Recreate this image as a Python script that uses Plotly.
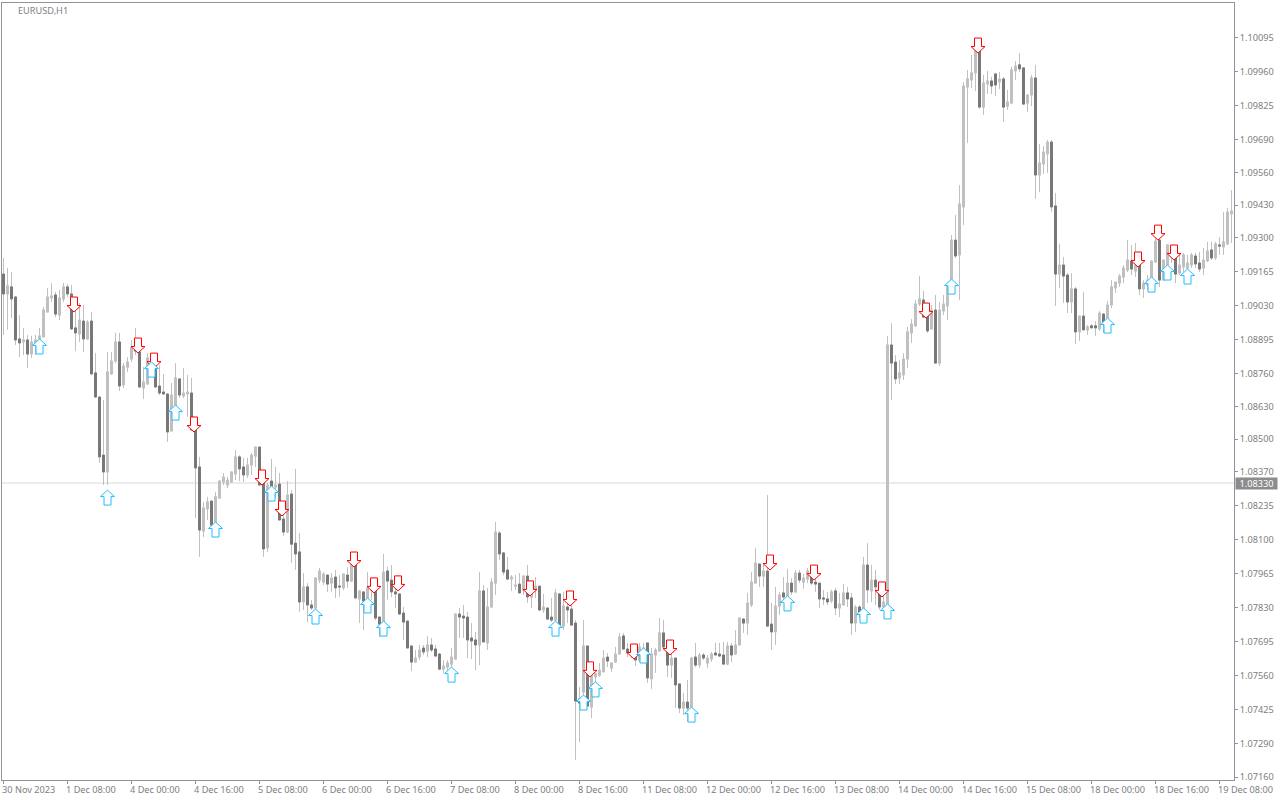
import plotly.graph_objects as go

# Prices in points (1 point = 0.00001)
highs_pts = [109220,109180,109164,109065,108993,108942,108914,108910,108914,108942,109025,109101,109120,109085,109093,109120,109116,109113,109045,109041,
109033,108973,109005,108842,108667,108655,108846,108846,108922,108922,108802,108826,108894,108942,108882,108786,108842,108842,108826,108794,
108759,108679,108723,108802,108739,108782,108755,108743,108548,108429,108250,108270,108257,108289,108337,108365,108349,108369,108456,108436,
108425,108425,108444,108468,108468,108337,108325,108421,108389,108365,108230,108333,108297,108381,108126,107967,107927,107860,107951,107987,
107971,107959,107967,107979,107959,107963,107991,108031,108039,107896,107892,107971,107951,107927,107792,108043,107991,107999,107951,107884,
107832,107776,107677,107661,107681,107681,107717,107709,107681,107649,107621,107621,107669,107804,107828,107840,107812,107768,107733,107971,
107919,107908,107947,108170,108134,108051,108031,107959,107959,107967,107959,107999,107919,107951,107915,107884,107828,107868,107904,107888,
107892,107868,107868,107780,107514,107780,107677,107570,107570,107609,107661,107649,107613,107673,107729,107729,107689,107673,107653,107689,
107689,107689,107669,107669,107788,107780,107701,107649,107629,107526,107490,107542,107633,107689,107649,107649,107641,107653,107689,107689,
107693,107693,107689,107740,107788,107788,107888,107971,108067,108003,107999,108277,107848,107912,107892,107951,107983,107947,107979,107979,
107963,107987,107999,107959,107927,107900,107892,107900,107908,107888,107923,107912,107888,107840,107840,108031,108086,107999,107979,107931,
107888,108910,108961,108834,108814,108842,108946,108977,109053,109148,109089,109021,109033,109073,109045,109073,109124,109311,109391,109510,
109920,109968,110027,110079,110047,109948,109964,109940,109952,109960,109940,109888,109980,110003,110035,109976,109872,109948,109988,109673,
109665,109689,109689,109478,109276,109224,109160,109160,109105,108989,109085,108953,108957,108969,109009,109001,109049,109132,109124,109156,
109192,109291,109272,109280,109192,109132,109152,109208,109299,109351,109212,109272,109272,109272,109232,109240,109232,109240,109240,109244,
109260,109284,109284,109284,109303,109403,109419,109490]

lows_pts = [108914,108934,108981,108874,108826,108834,108782,108822,108834,108874,108906,109005,109045,108985,108973,109045,109065,108934,108850,108886,
108846,108894,108755,108663,108405,108317,108317,108755,108802,108691,108703,108767,108806,108834,108703,108659,108715,108755,108703,108675,
108675,108488,108532,108615,108663,108663,108588,108536,108186,108031,108110,108178,108150,108158,108265,108317,108305,108329,108337,108333,
108329,108345,108357,108389,108317,108031,108051,108277,108265,108178,108114,108126,108007,107979,107812,107820,107772,107820,107780,107927,
107919,107892,107892,107868,107872,107900,107908,107931,107868,107768,107740,107860,107860,107780,107713,107768,107860,107872,107828,107800,
107701,107669,107577,107609,107621,107641,107633,107653,107633,107581,107570,107574,107589,107625,107709,107709,107629,107625,107581,107601,
107693,107661,107828,107880,108019,107959,107943,107896,107900,107888,107880,107848,107828,107868,107820,107808,107784,107772,107776,107748,
107740,107768,107760,107224,107295,107462,107438,107390,107522,107554,107574,107593,107574,107609,107641,107661,107633,107629,107597,107613,
107613,107530,107506,107570,107653,107669,107554,107550,107430,107410,107402,107375,107410,107593,107589,107621,107589,107613,107641,107633,
107601,107601,107613,107641,107681,107729,107721,107832,107927,107912,107912,107756,107661,107681,107800,107860,107868,107880,107888,107927,
107904,107927,107919,107892,107828,107840,107840,107848,107800,107792,107840,107832,107721,107733,107788,107800,107848,107852,107840,107820,
107820,107820,108655,108719,108719,108735,108782,108882,108946,109029,108981,108922,108938,108802,108790,108993,108973,109132,109220,109053,
109351,109677,109896,109884,109813,109789,109872,109872,109864,109892,109761,109809,109836,109928,109960,109828,109801,109824,109455,109482,
109554,109558,109403,109029,109101,109041,109001,109001,108878,108890,108934,108914,108942,108910,108930,108922,108953,109021,109081,109105,
109120,109164,109152,109144,109073,109061,109093,109124,109200,109105,109132,109140,109200,109120,109152,109164,109164,109180,109180,109164,
109152,109204,109212,109212,109232,109232,109272,109280]

opens_pts = [109156,109077,109105,109065,108898,108886,108894,108838,108874,108894,108906,109005,109061,109073,108993,109057,109105,109077,108942,108918,
108969,108898,108969,108763,108667,108436,108369,108759,108810,108886,108715,108786,108818,108866,108846,108703,108719,108818,108798,108711,
108687,108679,108532,108615,108739,108671,108679,108683,108536,108389,108134,108222,108253,108158,108265,108329,108317,108329,108361,108429,
108389,108357,108397,108432,108468,108333,108067,108333,108309,108321,108182,108130,108281,108086,108051,107852,107912,107840,107828,107939,
107931,107959,107927,107951,107915,107908,107959,107935,108007,107864,107892,107860,107900,107904,107792,107772,107975,107939,107892,107884,
107808,107776,107677,107613,107633,107669,107657,107681,107665,107645,107585,107593,107605,107625,107804,107796,107792,107709,107701,107681,
107896,107689,107832,107927,108126,108047,107979,107943,107915,107923,107900,107955,107872,107904,107915,107820,107828,107792,107780,107884,
107756,107832,107824,107768,107466,107494,107677,107434,107554,107561,107574,107633,107589,107613,107645,107717,107665,107637,107641,107621,
107641,107689,107546,107641,107657,107729,107677,107601,107629,107526,107430,107454,107430,107633,107601,107641,107609,107625,107649,107645,
107641,107605,107677,107645,107681,107784,107768,107840,107927,108003,107955,107975,107764,107733,107836,107888,107872,107927,107892,107967,
107931,107943,107975,107931,107927,107868,107864,107856,107896,107828,107840,107888,107868,107768,107832,107804,107999,107896,107939,107912,
107832,107840,108874,108806,108743,108755,108818,108922,108950,109037,109053,109001,108938,109013,108802,109009,109029,109132,109291,109232,
109423,109900,109928,109956,110043,109820,109912,109924,109952,109920,109932,109824,109836,109964,109988,109976,109836,109868,109936,109550,
109594,109634,109681,109427,109156,109192,109152,109045,109097,108926,108989,108934,108950,108950,108938,108997,108961,109033,109101,109120,
109144,109172,109208,109168,109192,109097,109113,109124,109204,109291,109132,109192,109224,109228,109160,109184,109180,109192,109228,109200,
109180,109208,109252,109220,109272,109264,109276,109395]

closes_pts = [109077,109109,109057,108894,108882,108894,108838,108886,108894,108910,109013,109065,109069,108997,109061,109105,109077,108938,108922,108973,
108898,108965,108759,108667,108429,108369,108767,108810,108886,108711,108790,108806,108866,108850,108707,108727,108822,108794,108707,108683,
108679,108528,108675,108743,108675,108683,108687,108536,108385,108138,108226,108250,108158,108270,108333,108349,108337,108369,108429,108381,
108357,108397,108436,108468,108317,108063,108317,108313,108317,108178,108130,108277,108082,108043,107852,107912,107840,107828,107947,107975,
107963,107923,107947,107908,107912,107963,107935,108007,107868,107896,107856,107908,107912,107788,107764,107971,107935,107892,107884,107804,
107772,107669,107613,107629,107661,107653,107681,107661,107637,107585,107597,107609,107633,107804,107792,107788,107701,107697,107681,107896,
107693,107832,107931,108130,108043,107971,107943,107951,107919,107888,107955,107872,107904,107915,107820,107832,107784,107780,107888,107756,
107836,107820,107760,107458,107450,107677,107438,107561,107566,107581,107629,107617,107609,107645,107713,107665,107649,107649,107621,107673,
107669,107550,107645,107661,107729,107673,107601,107629,107522,107430,107454,107430,107629,107601,107641,107629,107629,107645,107641,107637,
107605,107677,107641,107681,107788,107768,107848,107931,108007,107955,107975,107756,107733,107836,107880,107872,107927,107892,107967,107939,
107947,107975,107927,107923,107864,107864,107852,107892,107828,107844,107888,107864,107768,107832,107804,107999,107900,107939,107912,107832,
107852,108874,108802,108739,108763,108818,108926,108957,109037,109057,108985,108930,109013,108802,109013,109037,109105,109291,109228,109435,
109904,109932,109956,110051,109820,109916,109924,109904,109908,109932,109820,109840,109968,109983,109972,109832,109868,109936,109550,109598,
109641,109681,109423,109156,109192,109148,109045,109097,108926,108989,108934,108946,108942,108942,109001,108961,109033,109105,109124,109148,
109180,109212,109176,109192,109097,109120,109132,109208,109287,109132,109212,109272,109260,109156,109192,109232,109200,109232,109196,109176,
109212,109248,109220,109276,109268,109284,109403,109407]

sell_bars = [17,33,37,47,64,69,87,92,98,131,141,146,157,166,191,202,219,230,243,283,288,292]
sell_pts = [109005,108842,108782,108528,108317,108194,107991,107888,107896,107876,107836,107554,107625,107641,107979,107939,107872,108981,110035,109184,109291,109212]
buy_bars = [9,26,37,43,53,67,78,91,95,112,138,145,148,160,172,196,215,221,237,276,287,291,296]
buy_pts = [108898,108297,108806,108635,108170,108313,107824,107868,107776,107593,107776,107482,107534,107669,107434,107876,107828,107844,109136,108981,109144,109192,109176]

y_ticks = [1.10095,1.09960,1.09825,1.09690,1.09560,1.09430,1.09300,1.09165,1.09030,1.08895,1.08760,1.08630,1.08500,1.08370,1.08235,1.08100,1.07965,1.07830,1.07695,1.07560,1.07425,1.07290,1.07155]
y_tick_labels = [f"{v:.5f}" for v in y_ticks[:-1]] + ["1.07160"]
x_tick_bars = list(range(0, 320, 16))
x_tick_labels = ["30 Nov 2023","1 Dec 08:00","4 Dec 00:00","4 Dec 16:00","5 Dec 08:00","6 Dec 00:00","6 Dec 16:00","7 Dec 08:00","8 Dec 00:00","8 Dec 16:00",
"11 Dec 08:00","12 Dec 00:00","12 Dec 16:00","13 Dec 08:00","14 Dec 00:00","14 Dec 16:00","15 Dec 08:00","18 Dec 00:00","18 Dec 16:00","19 Dec 08:00"]
current_price = 1.08325
current_label = "1.08330"

LIGHT, DARK, FRAME, TXT = "#c0c0c0", "#787878", "#92929c", "#808080"
FONT = "Noto Sans"
TEXT_SIZE = 9.2

opens = [v / 1e5 for v in opens_pts]
highs = [v / 1e5 for v in highs_pts]
lows = [v / 1e5 for v in lows_pts]
closes = [v / 1e5 for v in closes_pts]
bars = list(range(len(opens)))

fig = go.Figure()
# Shadows: always silver
fig.add_trace(go.Candlestick(x=bars, open=opens, high=highs, low=lows, close=closes, name="shadow", hoverinfo="skip",
    increasing=dict(line=dict(color=LIGHT, width=1), fillcolor=LIGHT),
    decreasing=dict(line=dict(color=LIGHT, width=1), fillcolor=LIGHT)))
# Bodies on top
fig.add_trace(go.Candlestick(x=bars, open=opens, close=closes,
    high=[max(a, b) for a, b in zip(opens, closes)], low=[min(a, b) for a, b in zip(opens, closes)],
    name="EURUSD,H1",
    increasing=dict(line=dict(color=LIGHT, width=1), fillcolor=LIGHT),
    decreasing=dict(line=dict(color=DARK, width=1), fillcolor=DARK)))

shapes = [dict(type="line", xref="paper", x0=0, x1=1, yref="y", y0=current_price, y1=current_price,
               line=dict(color="#d8d8d8", width=1), layer="below")]
DOWN_PATH = "M 2.5 0 L 9.5 6.5 L 6 6.5 L 6 15 L -1 15 L -1 6.5 L -4.5 6.5 Z"
UP_PATH = "M 0 0 L 7 -6.5 L 3.5 -6.5 L 3.5 -15 L -3.5 -15 L -3.5 -6.5 L -7 -6.5 Z"
for i, p in zip(sell_bars, sell_pts):
    shapes.append(dict(type="path", xsizemode="pixel", ysizemode="pixel", xanchor=i, yanchor=p / 1e5,
                       xref="x", yref="y", path=DOWN_PATH, line=dict(color="#ff0000", width=1), fillcolor="white", layer="above"))
for i, p in zip(buy_bars, buy_pts):
    shapes.append(dict(type="path", xsizemode="pixel", ysizemode="pixel", xanchor=i, yanchor=p / 1e5,
                       xref="x", yref="y", path=UP_PATH, line=dict(color="#1fbfff", width=1), fillcolor="white", layer="above"))

annotations = [dict(x=i, xref="x", xanchor="left", xshift=-2.5, y=0, yref="paper", yanchor="top", yshift=-2,
                    text=t, showarrow=False, font=dict(family=FONT, size=TEXT_SIZE, color=TXT), borderpad=0, align="left")
               for i, t in zip(x_tick_bars, x_tick_labels)]
annotations.append(dict(x=1, xref="paper", xanchor="left", xshift=1, y=current_price, yref="y", yanchor="middle",
                        text=current_label, showarrow=False, font=dict(family=FONT, size=TEXT_SIZE, color="white"),
                        bgcolor="#8c8c8c", borderpad=0, width=41, height=11, align="center"))

axis_common = dict(showgrid=False, zeroline=False, showline=True, linecolor=FRAME, linewidth=1, mirror=True,
                   ticks="outside", tickcolor=FRAME, ticklen=3, tickwidth=1)
fig.update_layout(
    width=1280, height=800, autosize=False,
    margin=dict(l=2, r=46, t=3, b=20, pad=0),
    paper_bgcolor="white", plot_bgcolor="white", showlegend=False, dragmode=False,
    boxmode="overlay",
    title=dict(text="EURUSD,H1", x=18 / 1280, xanchor="left", xref="container", y=1 - 11 / 800, yref="container",
               yanchor="middle", font=dict(family=FONT, size=TEXT_SIZE, color=TXT)),
    xaxis=dict(range=[-0.375, 307.625], tickmode="array", tickvals=x_tick_bars, ticktext=[""] * len(x_tick_bars),
               rangeslider=dict(visible=False), **axis_common),
    yaxis=dict(range=[1.07144, 1.10234], side="right", tickmode="array", tickvals=y_ticks,
               ticktext=y_tick_labels, tickfont=dict(family=FONT, size=TEXT_SIZE, color=TXT), **axis_common),
    shapes=shapes, annotations=annotations,
)
fig.write_html("out.html", config={"displayModeBar": False},
               post_script="document.body.style.margin='0';document.body.style.overflow='hidden';")
